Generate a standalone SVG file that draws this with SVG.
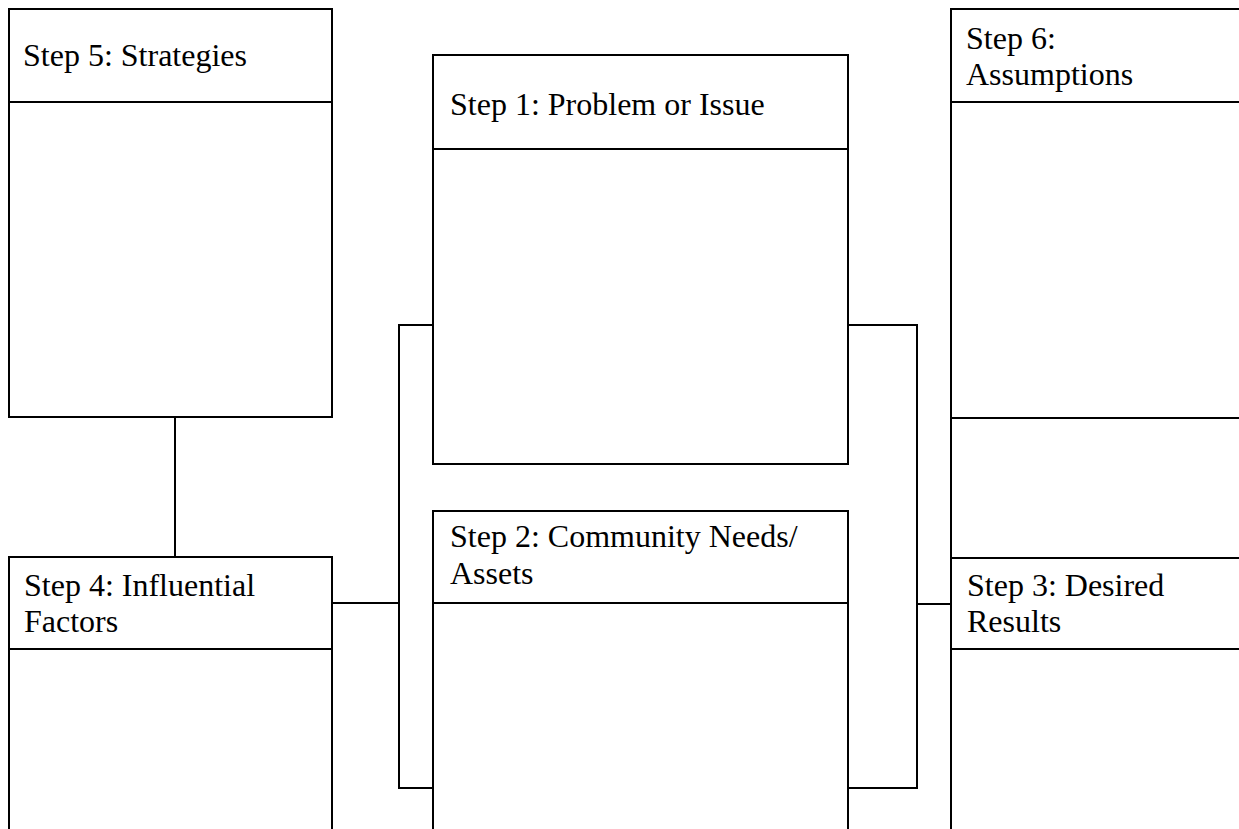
<svg xmlns="http://www.w3.org/2000/svg" width="1239" height="829" viewBox="0 0 1239 829">
<style>
.box{fill:none;stroke:#000;stroke-width:2}
.ln{fill:none;stroke:#000;stroke-width:2}
text{font-family:"Liberation Serif","Times New Roman",serif;font-size:32px;fill:#000}
</style>
<rect width="1239" height="829" fill="#fff"/>
<g id="connectors">
<path class="ln" d="M175,417V557"/>
<path class="ln" d="M332,603H399M433,325H399V788H433"/>
<path class="ln" d="M848,325H917V788H848M917,604H951"/>
</g>
<g id="step5">
<rect class="box" x="9" y="9" width="323" height="408"/>
<path class="ln" d="M9,102H332"/>
<text x="23" y="66">Step 5: Strategies</text>
</g>
<g id="step4">
<path class="box" d="M9,840V557H332V840"/>
<path class="ln" d="M9,649H332"/>
<text x="24" y="596">Step 4: Influential</text>
<text x="24" y="632">Factors</text>
</g>
<g id="step1">
<rect class="box" x="433" y="55" width="415" height="409"/>
<path class="ln" d="M433,149H848"/>
<text x="450" y="115">Step 1: Problem or Issue</text>
</g>
<g id="step2">
<path class="box" d="M433,840V511H848V840"/>
<path class="ln" d="M433,603H848"/>
<text x="450" y="547">Step 2: Community Needs/</text>
<text x="450" y="584">Assets</text>
</g>
<g id="step6">
<path class="box" d="M1245,9H951V418H1245"/>
<path class="ln" d="M951,102H1245"/>
<text x="966" y="49">Step 6:</text>
<text x="966" y="85">Assumptions</text>
</g>
<g id="step3">
<path class="box" d="M1245,558H951V840"/>
<path class="ln" d="M951,418V558"/>
<path class="ln" d="M951,649H1245"/>
<text x="967" y="596">Step 3: Desired</text>
<text x="967" y="632">Results</text>
</g>
</svg>
